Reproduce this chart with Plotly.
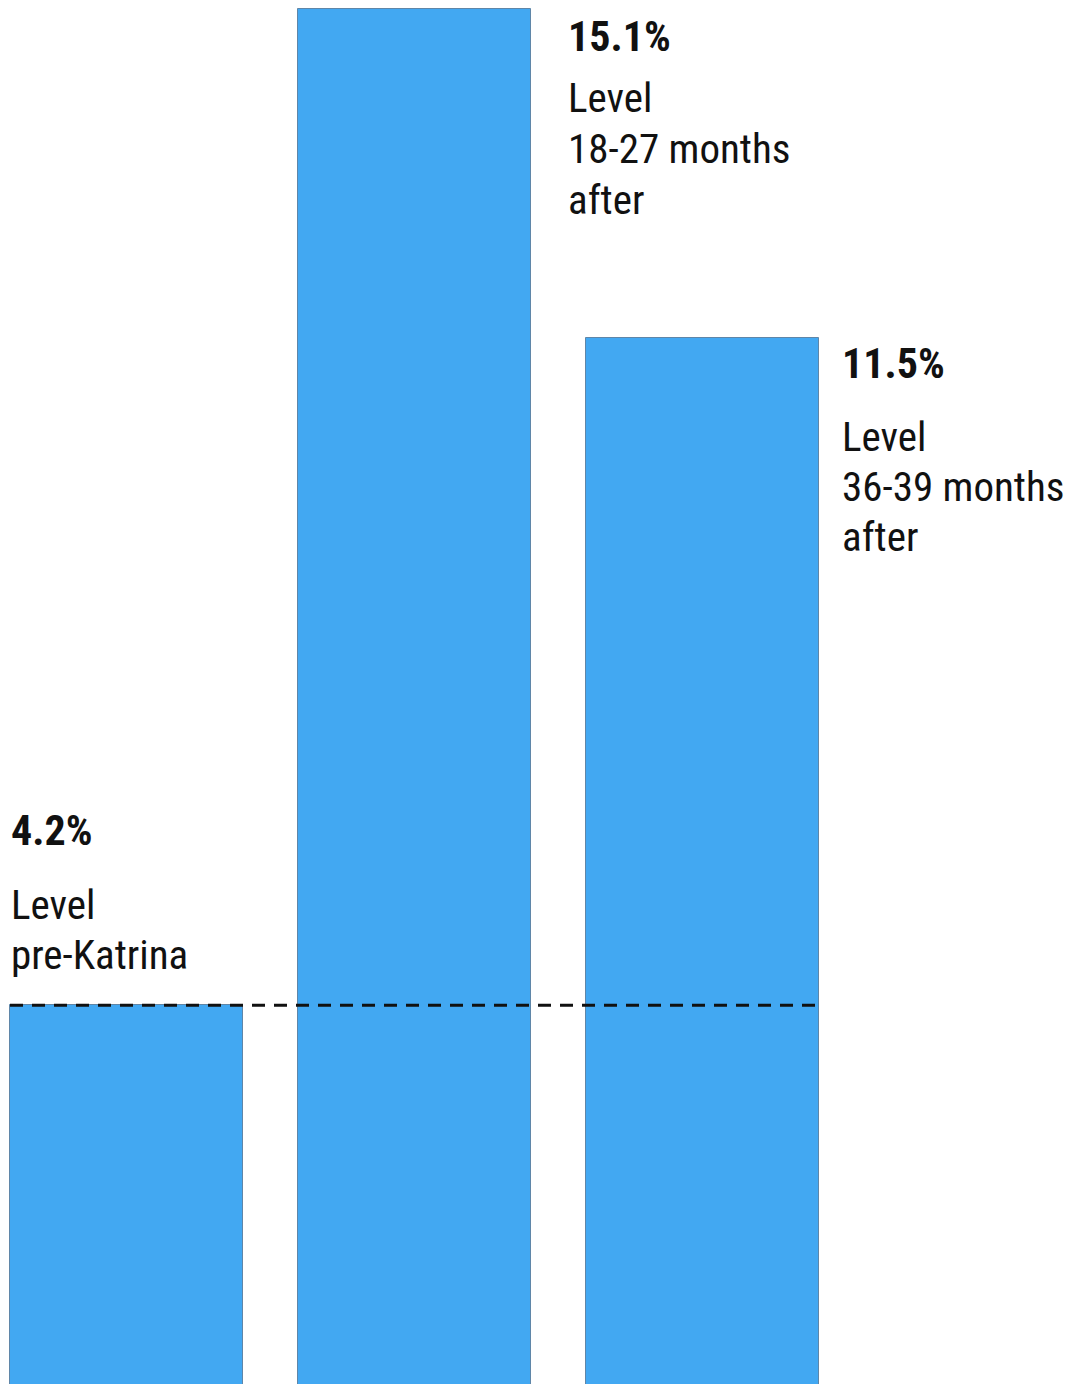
import plotly.graph_objects as go

categories = ["pre-Katrina", "18-27 months after", "36-39 months after"]
values = [4.2, 15.1, 11.5]
value_labels = ["4.2%", "15.1%", "11.5%"]
desc_lines = [["Level", "pre-Katrina"],
              ["Level", "18-27 months", "after"],
              ["Level", "36-39 months", "after"]]

BAR_COLOR = "#42A8F2"
FONT = "Roboto Condensed, Liberation Sans Narrow, DejaVu Sans Condensed, Arial Narrow, sans-serif"
W, H = 1086, 1384
PAGE_OFF = 8           # default body margin of the html page
pitch = 288.0          # px per category
bar_w = 233 / pitch    # bar width in category units
x0_px = 126.5 - PAGE_OFF  # pixel of first category center within the plot
ppu = 91.38            # px per percentage point
zero_px = 1381         # plot pixel of the zero line (below visible area)
xs = list(range(len(categories)))

fig = go.Figure(go.Bar(
    x=xs, y=values, width=bar_w,
    marker=dict(color=BAR_COLOR, line=dict(color="#5f86a8", width=1)),
    hoverinfo="skip",
))

# dashed baseline at pre-Katrina level
fig.add_shape(type="line", xref="x", yref="y",
              x0=xs[0] - bar_w / 2, x1=xs[2] + bar_w / 2,
              y0=values[0], y1=values[0],
              line=dict(color="#111111", width=3, dash="13px,9px"))

# label placement (pixel offsets relative to bar positions)
label_x = [xs[0] - bar_w / 2, xs[1] + bar_w / 2, xs[2] + bar_w / 2]
label_xshift = [-1, 35, 21]
label_top_shift = [175, -27, -25]  # value label center relative to bar top (px)
desc_first_gap = [75, 62, 74]
line_gap = [50, 51, 50]

for i in range(3):
    fig.add_annotation(x=label_x[i], y=values[i], xref="x", yref="y",
                       text="<b>" + value_labels[i] + "</b>", showarrow=False,
                       xanchor="left", yanchor="middle",
                       xshift=label_xshift[i], yshift=label_top_shift[i],
                       font=dict(family=FONT, size=42, color="#111111"))
    for j, line in enumerate(desc_lines[i]):
        fig.add_annotation(x=label_x[i], y=values[i], xref="x", yref="y",
                           text=line, showarrow=False,
                           xanchor="left", yanchor="middle",
                           xshift=label_xshift[i],
                           yshift=label_top_shift[i] - desc_first_gap[i] - j * line_gap[i],
                           font=dict(family=FONT, size=41, color="#111111"))

fig.update_layout(
    width=W, height=H,
    margin=dict(l=0, r=0, t=0, b=0),
    paper_bgcolor="white", plot_bgcolor="white",
    showlegend=False,
    bargap=0,
    xaxis=dict(range=[-x0_px / pitch, (W - x0_px) / pitch], visible=False, fixedrange=True),
    yaxis=dict(range=[-(H - zero_px) / ppu, zero_px / ppu], visible=False, fixedrange=True),
)

fig.write_html("out.html")
